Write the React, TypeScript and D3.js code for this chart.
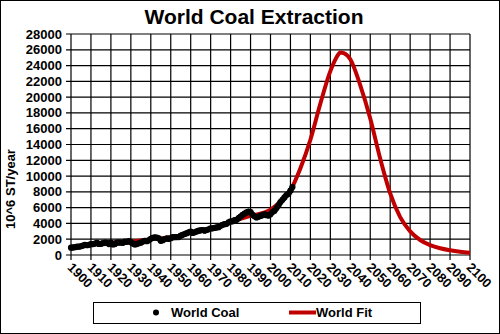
import React from "react";
import * as d3 from "d3";

const coalYears: number[] = d3.range(1900, 2012);
const coalValues: number[] = [
  930, 960, 980, 1050, 1060, 1110, 1190, 1290, 1240, 1290,
  1370, 1380, 1450, 1550, 1400, 1410, 1500, 1560, 1540, 1390,
  1560, 1340, 1380, 1580, 1570, 1580, 1540, 1690, 1670, 1760,
  1620, 1450, 1330, 1390, 1500, 1560, 1700, 1790, 1750, 1860,
  2060, 2180, 2230, 2200, 2120, 1800, 1870, 2020, 2100, 2050,
  2120, 2260, 2250, 2270, 2270, 2450, 2560, 2660, 2760, 2870,
  2960, 2800, 2880, 2990, 3080, 3130, 3170, 3080, 3170, 3260,
  3370, 3380, 3430, 3500, 3520, 3700, 3830, 3900, 3950, 4150,
  4250, 4270, 4410, 4460, 4670, 4880, 5100, 5250, 5400, 5500,
  5450, 5100, 4900, 4750, 4850, 4950, 5050, 5150, 5050, 5000,
  5150, 5450, 5600, 5950, 6300, 6700, 7000, 7300, 7600, 7750,
  8150, 8600,
];

const fitYears: number[] = [
  1900, 1910, 1920, 1930, 1940, 1950, 1960, 1970, 1980, 1990, 2000, 2005,
  2010, 2015, 2020, 2025, 2030, 2033, 2035, 2037, 2040, 2045, 2050, 2055,
  2060, 2065, 2070, 2075, 2080, 2085, 2090, 2095, 2100,
];
const fitValues: number[] = [
  950, 1300, 1550, 1700, 2000, 2250, 2800, 3300, 4200, 4950, 5750, 6800,
  8200, 11000, 14600, 19200, 23300, 25000, 25650, 25550, 24800, 21500, 17300, 12200,
  7800, 4800, 3000, 1900, 1250, 850, 600, 420, 300,
];

const xTicks: number[] = d3.range(1900, 2101, 10);
const yTicks: number[] = d3.range(0, 28001, 2000);

const title = "World Coal Extraction";
const yTitle = "10^6 ST/year";
const seriesNames = ["World Coal", "World Fit"];

const W = 500;
const H = 334;
const L = 71;
const R = 470;
const T = 34;
const B = 255;
const FONT = "'Liberation Sans', Arial, sans-serif";
const RED = "#c00000";

export default function App() {
  const x = d3.scaleLinear().domain([1900, 2100]).range([L, R]);
  const y = d3.scaleLinear().domain([0, 28000]).range([B, T]);

  const fitLine = d3
    .line<number>()
    .x((_, i) => x(fitYears[i]))
    .y((d) => y(d))
    .curve(d3.curveMonotoneX);
  const coalLine = d3
    .line<number>()
    .x((_, i) => x(coalYears[i]))
    .y((d) => y(d));

  return (
    <svg
      width={W}
      height={H}
      style={{ position: "absolute", left: 0, top: 0, background: "#fff" }}
      fontFamily={FONT}
    >
      <rect x={0.5} y={0.5} width={W - 1} height={H - 1} fill="#fff" stroke="#000" />
      <text x={254} y={24} textAnchor="middle" fontSize={21} fontWeight="bold">
        {title}
      </text>
      {xTicks.map((t) => (
        <line key={"gx" + t} x1={x(t)} x2={x(t)} y1={T} y2={B + 5} stroke="#000" strokeWidth={1.2} />
      ))}
      {yTicks.map((t) => (
        <line key={"gy" + t} x1={L - 5} x2={R} y1={y(t)} y2={y(t)} stroke="#000" strokeWidth={1.2} />
      ))}
      {yTicks.map((t) => (
        <text key={"yl" + t} x={62} y={y(t)} dy="0.35em" textAnchor="end" fontSize={13} fontWeight="bold">
          {t}
        </text>
      ))}
      {xTicks.map((t) => (
        <text
          key={"xl" + t}
          transform={`translate(${x(t) - 1},${265}) rotate(45)`}
          dy="0.35em"
          textAnchor="start"
          fontSize={13}
          fontWeight="bold"
        >
          {t}
        </text>
      ))}
      <text
        transform={`translate(10,189) rotate(-90)`}
        dy="0.35em"
        textAnchor="middle"
        fontSize={13}
        fontWeight="bold"
      >
        {yTitle}
      </text>
      <path d={fitLine(fitValues) || ""} fill="none" stroke={RED} strokeWidth={4} />
      <path d={coalLine(coalValues) || ""} fill="none" stroke="#000" strokeWidth={5.5} strokeLinejoin="round" />
      {coalValues.map((v, i) => (
        <circle key={"c" + i} cx={x(coalYears[i])} cy={y(v)} r={3.1} fill="#000" />
      ))}
      <rect x={93.5} y={302.5} width={327} height={21} fill="#fff" stroke="#000" />
      <circle cx={156} cy={312.5} r={3} fill="#000" />
      <text x={171} y={312.5} dy="0.35em" fontSize={13} fontWeight="bold">
        {seriesNames[0]}
      </text>
      <line x1={289} x2={316} y1={312.5} y2={312.5} stroke={RED} strokeWidth={4} />
      <text x={316} y={312.5} dy="0.35em" fontSize={13} fontWeight="bold">
        {seriesNames[1]}
      </text>
    </svg>
  );
}
